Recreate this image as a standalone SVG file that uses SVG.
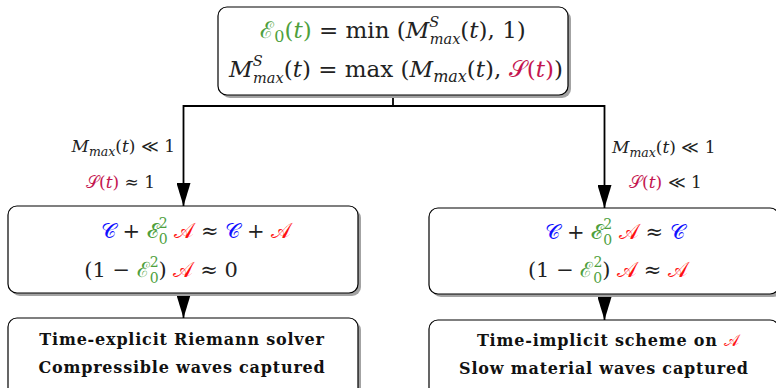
<svg xmlns="http://www.w3.org/2000/svg" width="776" height="388" viewBox="0 0 776 388">
<style>
.box{fill:#fff;stroke:#000;stroke-width:1.2}
.sh{fill:#a3a3a3}
.m{font-family:"DejaVu Serif","Liberation Serif",serif;font-size:21px;fill:#222}
.t{font-size:23px}
.lb{font-family:"DejaVu Serif","Liberation Serif",serif;font-size:17px;fill:#222}
.b{font-family:"DejaVu Serif","Liberation Serif",serif;font-weight:bold;font-size:16px;letter-spacing:0.8px;fill:#111}
.i{font-style:italic}
.g{fill:#4e9f3d}
.c{fill:#1010ff}
.r{fill:#ff1010}
.p{fill:#c4154f}
.sc{font-style:normal;font-weight:normal;letter-spacing:0}
.con{fill:none;stroke:#000;stroke-width:1.8}
</style>
<defs>
<marker id="ah" markerUnits="userSpaceOnUse" markerWidth="24" markerHeight="14" refX="23" refY="7" orient="auto">
<path d="M0,0 L23,7 L0,14 Z" fill="#000"/>
</marker>
</defs>
<g id="connectors">
<path class="con" d="M393,96 V106"/>
<path class="con" d="M393,106 H183.5 V206" marker-end="url(#ah)"/>
<path class="con" d="M393,106 H604.5 V208" marker-end="url(#ah)"/>
<path class="con" d="M183.5,293 V318" marker-end="url(#ah)"/>
<path class="con" d="M604.5,294 V320" marker-end="url(#ah)"/>
</g>
<g id="top">
<rect class="sh" x="221" y="10" width="350" height="88" rx="9"/>
<rect class="box" x="218" y="7" width="350" height="88" rx="9"/>
<text class="m t" x="393" y="38" text-anchor="middle"><tspan class="g sc">ℰ</tspan><tspan class="g" font-size="16" dy="4">0</tspan><tspan class="g" dy="-4">(</tspan><tspan class="g i">t</tspan><tspan class="g">)</tspan> = min (<tspan class="i">M</tspan><tspan class="i" font-size="14.5" dy="-11">S</tspan><tspan class="i" font-size="14.5" dx="-9.5" dy="17">max</tspan><tspan dy="-6">(</tspan><tspan class="i">t</tspan>), 1)</text>
<text class="m t" x="396" y="77" text-anchor="middle"><tspan class="i">M</tspan><tspan class="i" font-size="14.5" dy="-11">S</tspan><tspan class="i" font-size="14.5" dx="-9.5" dy="17">max</tspan><tspan dy="-6">(</tspan><tspan class="i">t</tspan>) = max (<tspan class="i">M</tspan><tspan class="i" font-size="16" dy="5">max</tspan><tspan dy="-5">(</tspan><tspan class="i">t</tspan>), <tspan class="p sc">𝒮</tspan><tspan class="p">(</tspan><tspan class="p i">t</tspan><tspan class="p">)</tspan>)</text>
</g>
<g id="label-left">
<text class="lb" x="175" y="152" text-anchor="end"><tspan class="i">M</tspan><tspan class="i" font-size="12.5" dy="4">max</tspan><tspan dy="-4">(</tspan><tspan class="i">t</tspan>) ≪ 1</text>
<text class="lb" x="155" y="188" text-anchor="end"><tspan class="p sc">𝒮</tspan><tspan class="p">(</tspan><tspan class="p i">t</tspan><tspan class="p">)</tspan> ≈ 1</text>
</g>
<g id="label-right">
<text class="lb" x="612" y="153"><tspan class="i">M</tspan><tspan class="i" font-size="12.5" dy="4">max</tspan><tspan dy="-4">(</tspan><tspan class="i">t</tspan>) ≪ 1</text>
<text class="lb" x="629" y="188"><tspan class="p sc">𝒮</tspan><tspan class="p">(</tspan><tspan class="p i">t</tspan><tspan class="p">)</tspan> ≪ 1</text>
</g>
<g id="mid-left">
<rect class="sh" x="11" y="209" width="350" height="87" rx="9"/>
<rect class="box" x="8" y="206" width="350" height="87" rx="9"/>
<text class="m" x="196" y="238" text-anchor="middle"><tspan class="c sc">𝒞</tspan> + <tspan class="g sc">ℰ</tspan><tspan class="g" font-size="14" dy="-10">2</tspan><tspan class="g" font-size="14" dx="-9" dy="16">0</tspan><tspan dy="-6"> </tspan><tspan class="r sc">𝒜</tspan> ≈ <tspan class="c sc">𝒞</tspan> + <tspan class="r sc">𝒜</tspan></text>
<text class="m" x="161" y="277" text-anchor="middle">(1 − <tspan class="g sc">ℰ</tspan><tspan class="g" font-size="14" dy="-10">2</tspan><tspan class="g" font-size="14" dx="-9" dy="16">0</tspan><tspan dy="-6">) </tspan><tspan class="r sc">𝒜</tspan> ≈ 0</text>
</g>
<g id="mid-right">
<rect class="sh" x="432" y="211" width="350" height="86" rx="9"/>
<rect class="box" x="429" y="208" width="350" height="86" rx="9"/>
<text class="m" x="615" y="239" text-anchor="middle"><tspan class="c sc">𝒞</tspan> + <tspan class="g sc">ℰ</tspan><tspan class="g" font-size="14" dy="-10">2</tspan><tspan class="g" font-size="14" dx="-9" dy="16">0</tspan><tspan dy="-6"> </tspan><tspan class="r sc">𝒜</tspan> ≈ <tspan class="c sc">𝒞</tspan></text>
<text class="m" x="608" y="277" text-anchor="middle">(1 − <tspan class="g sc">ℰ</tspan><tspan class="g" font-size="14" dy="-10">2</tspan><tspan class="g" font-size="14" dx="-9" dy="16">0</tspan><tspan dy="-6">) </tspan><tspan class="r sc">𝒜</tspan> ≈ <tspan class="r sc">𝒜</tspan></text>
</g>
<g id="bottom-left">
<rect class="sh" x="11" y="321" width="350" height="80" rx="9"/>
<rect class="box" x="8" y="318" width="350" height="80" rx="9"/>
<text class="b" x="182" y="345" text-anchor="middle">Time-explicit Riemann solver</text>
<text class="b" x="182" y="373" text-anchor="middle">Compressible waves captured</text>
</g>
<g id="bottom-right">
<rect class="sh" x="432" y="323" width="350" height="80" rx="9"/>
<rect class="box" x="429" y="320" width="350" height="80" rx="9"/>
<text class="b" x="608" y="346" text-anchor="middle">Time-implicit scheme on <tspan class="r sc">𝒜</tspan></text>
<text class="b" x="604" y="374" text-anchor="middle">Slow material waves captured</text>
</g>
</svg>
